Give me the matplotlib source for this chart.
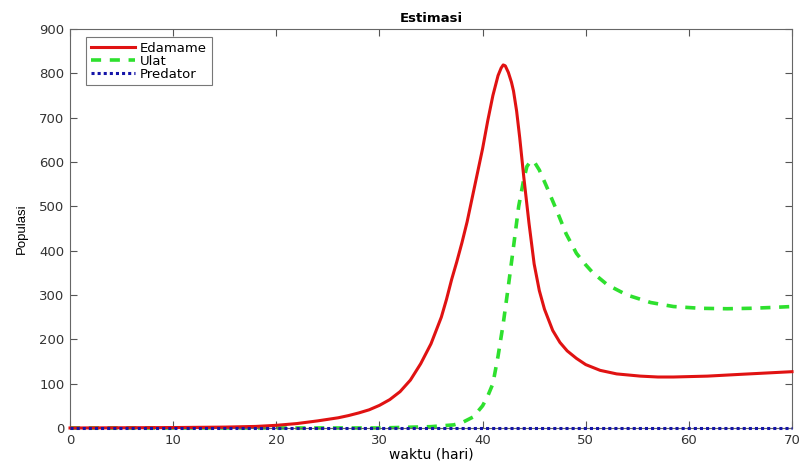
import matplotlib as mpl
import matplotlib.pyplot as plt

# values
t_edamame = [0, 5, 10, 15, 18, 20, 22, 24, 26, 27, 28, 29, 30, 31, 32, 33, 34, 35,
             36, 36.5, 37, 37.5, 38, 38.5, 39, 39.5, 40, 40.5, 41, 41.5, 41.8, 42.0,
             42.2, 42.5, 42.8, 43.0, 43.3, 43.6, 44.0, 44.5, 45.0, 45.5, 46.0, 46.8,
             47.5, 48.2, 49.1, 50, 51.4, 53, 55.3, 57, 58.5, 61.8, 65, 70]
edamame = [0, 0.5, 1, 2, 3.5, 6, 10, 16, 23, 28, 34, 41, 51, 64, 82, 108, 145, 190,
           250, 290, 335, 375, 418, 465, 520, 575, 630, 693, 750, 795, 812, 819,
           817, 802, 780, 760, 715, 655, 565, 462, 370, 310, 268, 220,
           193, 174, 157, 143, 130, 122, 117, 115, 115, 117, 121, 127]

t_ulat = [0, 10, 20, 30, 35, 37.2, 38, 39.1, 40, 40.5, 41, 41.5, 42, 42.5, 43,
          43.5, 44, 44.3, 44.7, 45.1, 45.5, 46.2, 47.2, 48.1, 49.1, 50, 50.7,
          52.1, 54, 56.3, 58.5, 61.1, 63.7, 66, 68.2, 70]
ulat = [0, 0, 0, 0, 3, 7, 12, 25, 50, 72, 100, 162, 235, 320, 409,
        500, 562, 590, 603, 597, 582, 545, 490, 438, 394, 368, 350,
        323, 300, 283, 274, 270, 269, 270, 272, 274]

t_predator = [0, 10, 20, 30, 40, 50, 60, 70]
predator = [0, 0, 0, 0, 0, 0, 0, 0]

xticks = [0, 10, 20, 30, 40, 50, 60, 70]
yticks = [0, 100, 200, 300, 400, 500, 600, 700, 800, 900]

mpl.rcParams['font.family'] = ['DejaVu Sans']
mpl.rcParams['font.size'] = 9.5

dpi = 100
fig = plt.figure(dpi=dpi, figsize=(803 / dpi, 468 / dpi))
ax = fig.add_axes([0.0872, 0.0855, 0.8991, 0.8525])

ax.plot(t_edamame, edamame, color='#e01212', linewidth=2.2, label='Edamame',
        zorder=3, clip_on=False)
ax.plot(t_ulat, ulat, color='#2ee02e', linewidth=2.6, linestyle=(0, (2.8, 2.4)),
        label='Ulat', zorder=2, clip_on=False)
ax.plot(t_predator, predator, color='#1414a8', linewidth=2.2, linestyle=(0, (1, 1)),
        label='Predator', zorder=4, clip_on=False)

ax.set_xlim(0, 70)
ax.set_ylim(0, 900)
ax.set_xticks(xticks)
ax.set_yticks(yticks)
ax.tick_params(direction='in', length=5, width=0.8, color='#555555',
               labelcolor='#333333', labelsize=9.5, top=True, right=True, pad=4)
for s in ax.spines.values():
    s.set_color('#666666')
    s.set_linewidth(0.8)

ax.set_title('Estimasi', fontweight='bold', fontsize=9.5, pad=5)
ax.set_xlabel('waktu (hari)', fontsize=10, labelpad=1)
ax.set_ylabel('Populasi', fontsize=9.5, family='Liberation Sans', labelpad=8)

leg = ax.legend(loc='upper left', bbox_to_anchor=(0.022, 0.98), borderaxespad=0,
                fancybox=False, framealpha=1, edgecolor='#777777', fontsize=9.5,
                handlelength=3.4, handletextpad=0.35, labelspacing=0.0,
                borderpad=0.35)
leg.get_frame().set_linewidth(0.8)

fig.savefig('out.png', dpi=dpi)
